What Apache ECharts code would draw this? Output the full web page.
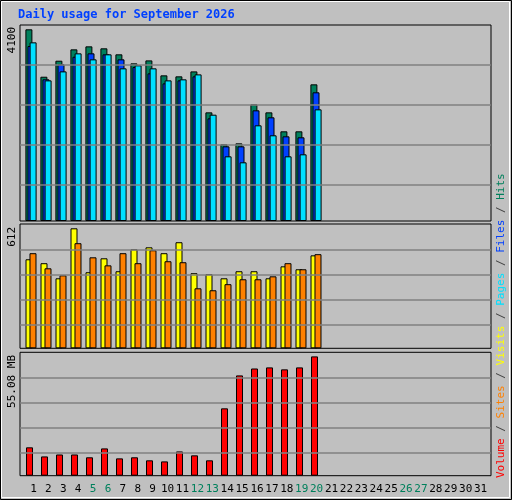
<!DOCTYPE html>
<html><head><meta charset="utf-8">
<script src="https://cdn.jsdelivr.net/npm/echarts@6/dist/echarts.min.js"></script>
<style>html,body{margin:0;padding:0;background:#c0c0c0}#c{width:512px;height:500px}</style>
</head><body><div id="c"></div>
<script>
const days = Array.from({length:31},(_,i)=>String(i+1));
const weekend = ['5','6','12','13','19','20','26','27'];
const hits  = [4093,3081,3423,3665,3729,3687,3559,3366,3430,3110,3089,3195,2320,1637,1658,2491,2320,1915,1915,2918];
const files = [3736,3025,3345,3508,3580,3559,3452,3288,3153,2939,3003,3089,2192,1594,1594,2363,2214,1808,1787,2748];
const pages = [3815,3003,3195,3580,3452,3559,3260,3324,3260,3003,3025,3131,2270,1381,1253,2043,1830,1381,1424,2384];
const visits= [454,434,357,612,388,459,393,505,515,485,541,383,378,357,393,393,357,418,403,474];
const sites = [485,408,372,536,464,423,485,434,500,444,439,306,296,327,352,352,367,434,403,480];
const volume= [13.1,8.9,9.8,9.8,8.5,12.6,8.0,8.5,7.1,6.6,11.2,9.4,7.1,31.1,46.3,49.5,50.0,49.1,50.0,55.08];
const maxLabels = ['4100','612','55.08 MB'];

const panels = [
  {top:25, h:196, topPx:192, max:4100, lines:[36,76,116,156], left:23.5},
  {top:224, h:124.3, topPx:120, max:612, lines:[24,49,74,99], left:23.5},
  {top:352.3, h:123.4, topPx:119.3, max:55.08, lines:[23.3,48.3,73.3,98.3], left:22}
];
const grids=[], xAxes=[], yAxes=[], series=[];
panels.forEach((p,i)=>{
  grids.push({left:20, top:p.top, width:471, height:p.h, show:true, backgroundColor:'#c0c0c0', borderColor:'#000', borderWidth:1});
  xAxes.push({type:'value', gridIndex:2*i, show:false, min:0, max:1});
  yAxes.push({type:'value', gridIndex:2*i, show:false, min:0, max:p.h});
  series.push({type:'line', xAxisIndex:2*i, yAxisIndex:2*i, data:[], silent:true,
    markLine:{symbol:'none', silent:true, label:{show:false}, lineStyle:{color:'#808080', type:'solid', width:1.5},
      data:p.lines.map(v=>({yAxis:v}))}});
  grids.push({left:p.left, top:p.top, width:465, height:p.h});
  xAxes.push({type:'category', gridIndex:2*i+1, data:days, show:false});
  yAxes.push({type:'value', gridIndex:2*i+1, show:false, min:0, max:p.max*p.h/p.topPx});
});
const bs = (name,data,color,idx,extra)=>Object.assign({type:'bar', name, data, xAxisIndex:idx, yAxisIndex:idx,
  barWidth:7, itemStyle:{color, borderColor:'#000', borderWidth:1}, animation:false}, extra||{});
series.push(bs('Hits',hits,'#00805c',1,{barGap:'-70%'}));
series.push(bs('Files',files,'#0040ff',1,{barGap:'-70%'}));
series.push(bs('Pages',pages,'#00e0ff',1,{barGap:'-70%'}));
series.push(bs('Visits',visits,'#ffff00',3,{barGap:'-43%'}));
series.push(bs('Sites',sites,'#ff8000',3,{barGap:'-43%'}));
series.push(bs('Volume',volume,'#ff0000',5,{barWidth:7}));

grids.push({left:26, top:480, width:462, height:1});
xAxes.push({type:'category', gridIndex:6, data:days, axisLine:{show:false}, axisTick:{show:false},
  axisLabel:{interval:0, margin:3, fontFamily:'DejaVu Sans Mono', fontSize:11,
    color:(v)=>weekend.includes(v)?'#00805c':'#000'}});
yAxes.push({type:'value', gridIndex:6, show:false});

const mono='DejaVu Sans Mono';
const ylab=(t,y)=>({type:'text', x:7, y, rotation:Math.PI/2, style:{text:t, font:'11px '+mono, fill:'#000', align:'right', verticalAlign:'top'}});
const chart=echarts.init(document.getElementById('c'));
chart.setOption({
  animation:false, backgroundColor:'#c0c0c0',
  grid:grids, xAxis:xAxes, yAxis:yAxes, series,
  graphic:[
    {type:'rect', shape:{x:0.5,y:0.5,width:511,height:499}, style:{fill:'none', stroke:'#000', lineWidth:1}, silent:true},
    {type:'rect', shape:{x:1.5,y:1.5,width:508,height:496}, style:{fill:'none', stroke:'#fff', lineWidth:1}, silent:true},
    {type:'text', x:18, y:9, style:{text:'Daily usage for September 2026', font:'bold 12px '+mono, fill:'#0040ff'}},
    ylab(maxLabels[0],27), ylab(maxLabels[1],227), ylab(maxLabels[2],355),
    {type:'text', x:496, y:478, rotation:Math.PI/2, style:{
      text:'{r|Volume}{s| / }{o|Sites}{s| / }{y|Visits}{s| / }{c|Pages}{s| / }{b|Files}{s| / }{g|Hits}',
      font:'11px '+mono, verticalAlign:'top',
      rich:{r:{fill:'#ff0000',font:'11px '+mono},s:{fill:'#404040',font:'11px '+mono},o:{fill:'#ff8000',font:'11px '+mono},
        y:{fill:'#ffff00',font:'11px '+mono},c:{fill:'#00e0ff',font:'11px '+mono},b:{fill:'#0040ff',font:'11px '+mono},g:{fill:'#00805c',font:'11px '+mono}}}}
  ]
});
</script></body></html>
